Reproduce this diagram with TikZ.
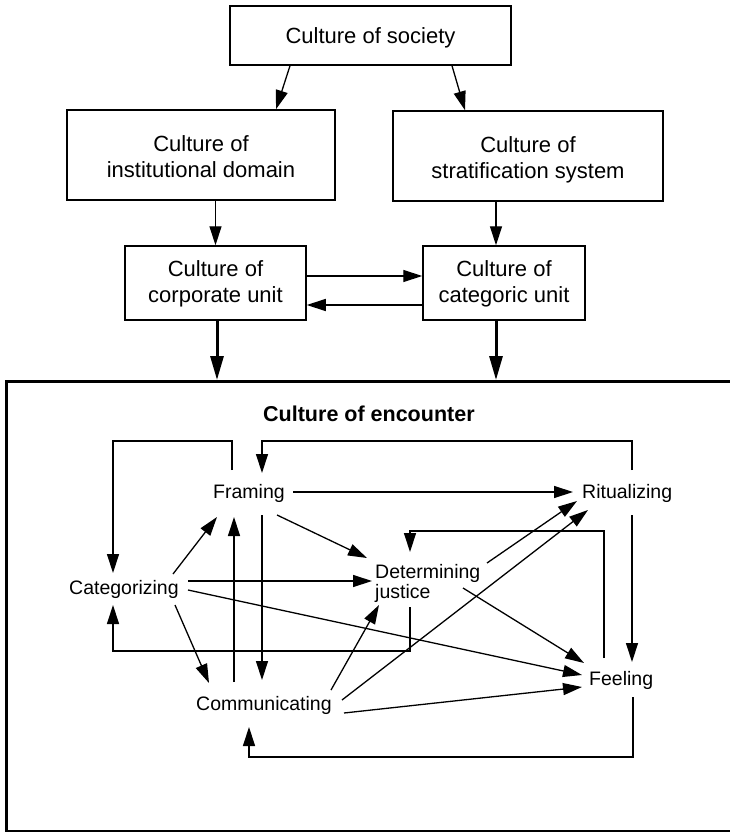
\documentclass[tikz,border=0pt]{standalone}
\usepackage{fontspec}
\setmainfont{Liberation Sans}
\usetikzlibrary{arrows.meta}
\begin{document}
\begin{tikzpicture}[x=1pt,y=1pt,
  box/.style={draw,line width=1.5pt,inner sep=0pt,align=center,font=\fontsize{22}{26}\selectfont},
  lab/.style={anchor=base west,inner sep=0pt,font=\fontsize{19.5}{20}\selectfont},
  arr/.style={-{Triangle[length=19pt,width=12pt]},line width=1.3pt},
  thk/.style={-{Triangle[length=24pt,width=13pt]},line width=3pt}
]
\useasboundingbox (0,0) rectangle (730,-832);
\clip (0,0) rectangle (730,-832);
% upper boxes
\node[box,minimum width=281pt,minimum height=59pt,text height=17pt,text depth=0pt] (soc) at (370.5,-35.5) {Culture of society};
\node[box,minimum width=268pt,minimum height=90pt,text height=45pt,text depth=0pt] (inst) at (201,-155) {Culture of\\institutional domain};
\node[box,minimum width=270pt,minimum height=90pt,text height=45pt,text depth=0pt] (strat) at (528,-156) {Culture of\\stratification system};
\node[box,minimum width=181pt,minimum height=74pt,text height=40pt,text depth=2pt] (corp) at (215.5,-283) {Culture of\\corporate unit};
\node[box,minimum width=162pt,minimum height=74pt,text height=40pt,text depth=2pt] (cat) at (504,-283) {Culture of\\categoric unit};
% encounter frame
\node[draw,line width=2.5pt,anchor=north west,minimum width=760pt,minimum height=450pt,inner sep=0pt] (enc) at (5,-380) {};
\node[anchor=base west,inner sep=0pt,font=\bfseries\fontsize{21.5}{24}\selectfont] (title) at (263,-421) {Culture of encounter};
% upper arrows
\draw[arr] ([xshift=-80.5pt]soc.south) -- ([xshift=75pt]inst.north);
\draw[arr] ([xshift=81.5pt]soc.south) -- ([xshift=-63pt]strat.north);
\draw[arr] (corp.north |- inst.south) -- (corp.north);
\draw[arr] ([xshift=-8pt]cat.north |- strat.south) -- ([xshift=-8pt]cat.north);
\draw[arr] ([yshift=7pt]corp.east) -- ([yshift=7pt]cat.west);
\draw[arr] ([yshift=-22pt]cat.west) -- ([yshift=-22pt]corp.east);
\draw[thk] ([xshift=1.5pt]corp.south) -- ([xshift=1.5pt]corp.south |- enc.north);
\draw[thk] ([xshift=-8pt]cat.south) -- ([xshift=-8pt]cat.south |- enc.north);
% inner labels
\node[lab] (fr) at (213,-498) {Framing};
\node[lab] (ri) at (582,-498) {Ritualizing};
\node[lab] (ca) at (69,-594) {Categorizing};
\node[lab,align=left] (dj) at (375,-598) {Determining\\justice};
\node[lab] (co) at (196,-710) {Communicating};
\node[lab] (fe) at (589,-685) {Feeling};
% inner connectors
\draw[arr] ([shift={(80,6)}]fr.base west) -- ([shift={(-9,6)}]ri.base west);
\draw[arr] ([shift={(64,-17)}]fr.base west) -- ([shift={(-8,40)}]dj.base west);
\draw[arr] ([shift={(104,20)}]ca.base west) -- ([shift={(4,-19)}]fr.base west);
\draw[arr] ([shift={(119,13)}]ca.base west) -- ([shift={(-3,17)}]dj.base west);
\draw[arr] ([shift={(119,4)}]ca.base west) -- ([shift={(-7,10)}]fe.base west);
\draw[arr] ([shift={(106,-11)}]ca.base west) -- ([shift={(13,27)}]co.base west);
\draw[arr] ([shift={(38,28)}]co.base west) -- ([shift={(21,-19)}]fr.base west);
\draw[arr] ([shift={(49,-17)}]fr.base west) -- ([shift={(66,30)}]co.base west);
\draw[arr] ([shift={(19,28)}]fr.base west) -- ++(0,29) -| ([shift={(44,21)}]ca.base west);
\draw[arr] ([shift={(50,28)}]ri.base west) -- ++(0,29) -| ([shift={(49,25)}]fr.base west);
\draw[arr] ([shift={(50,-17)}]ri.base west) -- ([shift={(43,23)}]fe.base west);
\draw[arr] ([shift={(15,27)}]fe.base west) -- ++(0,127) -| ([shift={(35,46)}]dj.base west);
\draw[arr] ([shift={(35,-9)}]dj.base west) -- ++(0,-44) -| ([shift={(44,-11)}]ca.base west);
\draw[arr] ([shift={(44,-12)}]fe.base west) -- ++(0,-60) -| ([shift={(53,-17)}]co.base west);
\draw[arr] ([shift={(112,35)}]dj.base west) -- ([shift={(-5,-3)}]ri.base west);
\draw[arr] ([shift={(146,10)}]co.base west) -- ([shift={(6,-12)}]ri.base west);
\draw[arr] ([shift={(88,10)}]dj.base west) -- ([shift={(-5,22)}]fe.base west);
\draw[arr] ([shift={(135,20)}]co.base west) -- ([shift={(4,-7)}]dj.base west);
\draw[arr] ([shift={(148,-3)}]co.base west) -- ([shift={(-7,-2)}]fe.base west);
\end{tikzpicture}
\end{document}
